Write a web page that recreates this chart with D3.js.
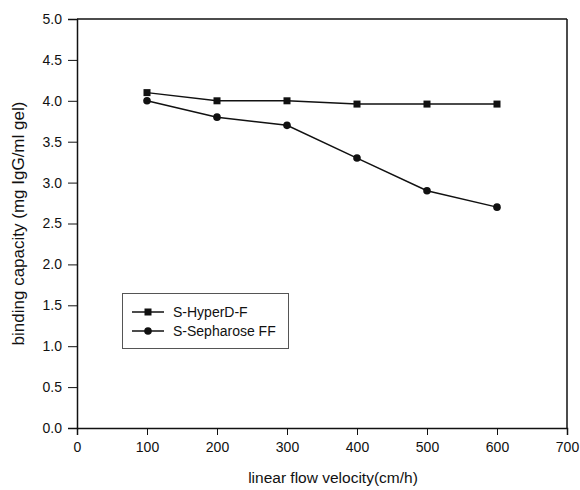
<!DOCTYPE html>
<html>
<head>
<meta charset="utf-8">
<script src="https://cdn.jsdelivr.net/npm/d3@7"></script>
<style>
  html, body { margin: 0; padding: 0; background: #fff; }
  svg { display: block; font-family: Arial, "Liberation Sans", Helvetica, sans-serif; }
</style>
</head>
<body>
<script>
const velocities = [100, 200, 300, 400, 500, 600];
const hyperD = [4.1, 4.0, 4.0, 3.96, 3.96, 3.96];
const sepharose = [4.0, 3.8, 3.7, 3.3, 2.9, 2.7];
const seriesNames = ["S-HyperD-F", "S-Sepharose FF"];
const xTicks = [0, 100, 200, 300, 400, 500, 600, 700];
const yTicks = [0.0, 0.5, 1.0, 1.5, 2.0, 2.5, 3.0, 3.5, 4.0, 4.5, 5.0];
const xTitle = "linear flow velocity(cm/h)";
const yTitle = "binding capacity (mg IgG/ml gel)";

const W = 580, H = 490;
const m = { left: 77, right: 13, top: 19, bottom: 62 };
const svg = d3.select("body").append("svg").attr("width", W).attr("height", H);

const x = d3.scaleLinear().domain([0, 700]).range([m.left, W - m.right]);
const y = d3.scaleLinear().domain([0, 5]).range([H - m.bottom, m.top]);

const ink = "#111";

// frame top/right
svg.append("line").attr("x1", x(0)).attr("x2", x(700)).attr("y1", y(5)).attr("y2", y(5))
  .attr("stroke", ink).attr("stroke-width", 1.5);
svg.append("line").attr("x1", x(700)).attr("x2", x(700)).attr("y1", y(5)).attr("y2", y(0))
  .attr("stroke", ink).attr("stroke-width", 1.5);

const xAxis = svg.append("g").attr("transform", `translate(0,${y(0)})`)
  .call(d3.axisBottom(x).tickValues(xTicks).tickFormat(d3.format("d")).tickSize(7).tickPadding(7));
const yAxis = svg.append("g").attr("transform", `translate(${x(0)},0)`)
  .call(d3.axisLeft(y).tickValues(yTicks).tickFormat(d3.format(".1f")).tickSize(9).tickPadding(6));

[xAxis, yAxis].forEach(a => {
  a.select(".domain").attr("stroke", ink).attr("stroke-width", 1.5);
  a.selectAll(".tick line").attr("stroke", ink).attr("stroke-width", 1);
  a.selectAll(".tick text").attr("fill", ink).style("font-size", "14px")
    .style("font-family", "Arial, 'Liberation Sans', sans-serif");
});
xAxis.selectAll(".tick text").attr("dy", "0.71em");

// titles
svg.append("text").attr("x", 333).attr("y", 483)
  .attr("text-anchor", "middle").attr("fill", ink).style("font-size", "15.5px").text(xTitle);
svg.append("text").attr("transform", `translate(24,${(y(0) + y(5)) / 2}) rotate(-90)`)
  .attr("text-anchor", "middle").attr("fill", ink).style("font-size", "17px").text(yTitle);

const line = d3.line().x((d, i) => x(velocities[i])).y(d => y(d));

// series 1: squares
svg.append("path").datum(hyperD).attr("d", line).attr("fill", "none")
  .attr("stroke", ink).attr("stroke-width", 1.5);
svg.append("g").selectAll("rect").data(hyperD).join("rect")
  .attr("x", (d, i) => x(velocities[i]) - 3.5).attr("y", d => y(d) - 3.5)
  .attr("width", 7).attr("height", 7).attr("fill", ink);

// series 2: circles
svg.append("path").datum(sepharose).attr("d", line).attr("fill", "none")
  .attr("stroke", ink).attr("stroke-width", 1.5);
svg.append("g").selectAll("circle").data(sepharose).join("circle")
  .attr("cx", (d, i) => x(velocities[i])).attr("cy", d => y(d)).attr("r", 3.8).attr("fill", ink);

// legend
const lg = svg.append("g");
lg.append("rect").attr("x", 122.5).attr("y", 293.5).attr("width", 166).attr("height", 55)
  .attr("fill", "#fff").attr("stroke", "#555").attr("stroke-width", 1);
seriesNames.forEach((name, i) => {
  const ly = 312 + i * 19;
  lg.append("line").attr("x1", 132).attr("x2", 164).attr("y1", ly).attr("y2", ly)
    .attr("stroke", ink).attr("stroke-width", 1.5);
  if (i === 0) {
    lg.append("rect").attr("x", 148 - 3.5).attr("y", ly - 3.5).attr("width", 7).attr("height", 7).attr("fill", ink);
  } else {
    lg.append("circle").attr("cx", 148).attr("cy", ly).attr("r", 3.8).attr("fill", ink);
  }
  lg.append("text").attr("x", 173).attr("y", ly).attr("dy", "0.36em").attr("fill", ink)
    .style("font-size", "14px").text(name);
});
</script>
</body>
</html>
